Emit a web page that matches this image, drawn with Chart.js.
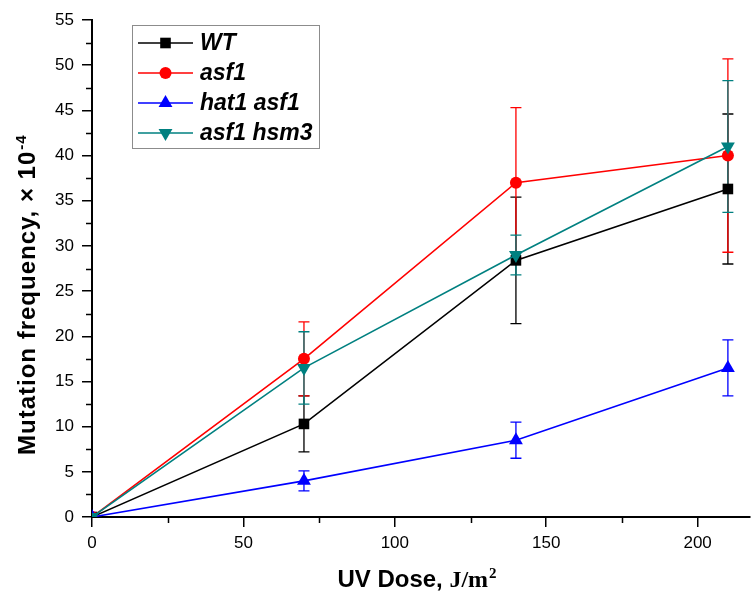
<!DOCTYPE html>
<html>
<head>
<meta charset="utf-8">
<script src="https://cdn.jsdelivr.net/npm/chart.js@4.4.1/dist/chart.umd.min.js"></script>
<style>
  html, body { margin: 0; padding: 0; background: #fff; }
  #wrap { width: 752px; height: 594px; }
</style>
</head>
<body>
<div id="wrap"><canvas id="chart"></canvas></div>
<script>
// UV dose (J/m2) and mutation frequency (x 10^-4) with symmetric errors
const doses = [0, 70, 140, 210]

const wt = [0, 10.3, 28.4, 36.3]
const wtErr = [0, 3.1, 7.0, 8.3]

const asf1 = [0, 17.5, 37.0, 40.0]
const asf1Err = [0, 4.1, 8.3, 10.7]

const hat1Asf1 = [0, 4.0, 8.5, 16.5]
const hat1Asf1Err = [0, 1.1, 2.0, 3.1]

const asf1Hsm3 = [0, 16.5, 29.0, 41.0]
const asf1Hsm3Err = [0, 4.0, 2.2, 7.3]

const xTicks = [0, 50, 100, 150, 200]
const xMinor = [25, 75, 125, 175]
const yTicks = [0, 5, 10, 15, 20, 25, 30, 35, 40, 45, 50, 55]
const yMinor = [2.5, 7.5, 12.5, 17.5, 22.5, 27.5, 32.5, 37.5, 42.5, 47.5, 52.5]

const SANS = '"Liberation Sans", Arial, sans-serif'
const SERIF = '"Liberation Serif", "Times New Roman", serif'

function series(label, values, errors, color, style, radius, rotation, order) {
  return {
    label,
    data: doses.map((d, i) => ({ x: d, y: values[i] })),
    errors,
    borderColor: color,
    backgroundColor: color,
    pointBackgroundColor: color,
    pointBorderColor: color,
    pointBorderWidth: 0,
    pointStyle: style,
    pointRadius: radius,
    pointHoverRadius: radius,
    pointRotation: rotation,
    borderWidth: 1.6,
    tension: 0,
    order,
  }
}

const datasets = [
  series('WT',         wt,       wtErr,       '#000000', 'rect',     7.5, 0,   3),
  series('asf1',       asf1,     asf1Err,     '#ff0000', 'circle',   6,   0,   2),
  series('hat1 asf1',  hat1Asf1, hat1Asf1Err, '#0000ff', 'triangle', 8,   0,   1),
  series('asf1 hsm3',  asf1Hsm3, asf1Hsm3Err, '#008080', 'triangle', 8,   180, 0),
]

// vertical error bars with caps, drawn under the markers
const errorBars = {
  id: 'errorBars',
  beforeDatasetsDraw(chart) {
    const { ctx, scales: { x, y } } = chart
    ctx.save()
    ctx.lineWidth = 1.3
    chart.data.datasets.forEach(ds => {
      ctx.strokeStyle = ds.borderColor
      ds.data.forEach((p, i) => {
        const e = ds.errors[i]
        if (!e) return
        const px = x.getPixelForValue(p.x)
        const top = y.getPixelForValue(p.y + e)
        const bot = y.getPixelForValue(p.y - e)
        ctx.beginPath()
        ctx.moveTo(px, top); ctx.lineTo(px, bot)
        ctx.moveTo(px - 5.5, top); ctx.lineTo(px + 5.5, top)
        ctx.moveTo(px - 5.5, bot); ctx.lineTo(px + 5.5, bot)
        ctx.stroke()
      })
    })
    ctx.restore()
  },
}

// short outward minor ticks between the labelled ones
const minorTicks = {
  id: 'minorTicks',
  afterDraw(chart) {
    const { ctx, chartArea, scales: { x, y } } = chart
    ctx.save()
    ctx.strokeStyle = '#000'
    ctx.lineWidth = 1.5
    ctx.beginPath()
    xMinor.forEach(v => {
      const px = Math.round(x.getPixelForValue(v)) + 0.5
      ctx.moveTo(px, chartArea.bottom); ctx.lineTo(px, chartArea.bottom + 6)
    })
    yMinor.forEach(v => {
      const py = Math.round(y.getPixelForValue(v)) + 0.5
      ctx.moveTo(chartArea.left, py); ctx.lineTo(chartArea.left - 6, py)
    })
    ctx.stroke()
    ctx.restore()
  },
}

// axis titles with a serif unit and raised exponents
const axisTitles = {
  id: 'axisTitles',
  afterDraw(chart) {
    const { ctx } = chart
    ctx.save()
    ctx.fillStyle = '#000'
    ctx.textBaseline = 'alphabetic'
    ctx.textAlign = 'left'

    // x title: UV Dose, J/m2
    const partA = 'UV Dose, '
    const partB = 'J/m'
    const partC = '2'
    ctx.font = 'bold 24px ' + SANS
    const wA = ctx.measureText(partA).width
    ctx.font = 'bold 24px ' + SERIF
    const wB = ctx.measureText(partB).width
    ctx.font = 'bold 15px ' + SERIF
    const wC = ctx.measureText(partC).width
    let x0 = 416.5 - (wA + wB + wC) / 2
    const base = 587
    ctx.font = 'bold 24px ' + SANS
    ctx.fillText(partA, x0, base)
    ctx.font = 'bold 24px ' + SERIF
    ctx.fillText(partB, x0 + wA, base)
    ctx.font = 'bold 15px ' + SERIF
    ctx.fillText(partC, x0 + wA + wB + 1, base - 9)

    // y title: Mutation frequency, x 10^-4
    ctx.translate(35, 455)
    ctx.rotate(-Math.PI / 2)
    ctx.letterSpacing = '1px'
    ctx.font = 'bold 24px ' + SANS
    const main = 'Mutation frequency, \u00d7 10'
    ctx.fillText(main, 0, 0)
    const wm = ctx.measureText(main).width
    ctx.font = 'bold 15px ' + SANS
    ctx.fillText('-4', wm + 1, -9)
    ctx.restore()
  },
}

// boxed legend with a line through each marker
const boxLegend = {
  id: 'boxLegend',
  afterDraw(chart) {
    const { ctx } = chart
    ctx.save()
    ctx.strokeStyle = '#8c8c8c'
    ctx.lineWidth = 1
    ctx.strokeRect(132.5, 25.5, 187, 123)
    chart.data.datasets.forEach((ds, i) => {
      const yy = 43 + i * 30
      ctx.strokeStyle = ds.borderColor
      ctx.lineWidth = 1.6
      ctx.beginPath()
      ctx.moveTo(138, yy); ctx.lineTo(193, yy)
      ctx.stroke()
      ctx.fillStyle = ds.borderColor
      Chart.helpers.drawPoint(ctx, {
        pointStyle: ds.pointStyle,
        rotation: ds.pointRotation,
        radius: ds.pointRadius,
        borderWidth: 0,
      }, 165.5, yy)
      ctx.fillStyle = '#000'
      ctx.font = 'italic bold 23px ' + SANS
      ctx.textBaseline = 'middle'
      ctx.fillText(ds.label, 200, yy + 1)
    })
    ctx.restore()
  },
}

new Chart(document.getElementById('chart'), {
  type: 'line',
  data: { datasets },
  plugins: [errorBars, minorTicks, axisTitles, boxLegend],
  options: {
    responsive: true,
    maintainAspectRatio: false,
    animation: false,
    layout: { autoPadding: false, padding: { top: 20, right: 2, left: 0, bottom: 0 } },
    plugins: {
      legend: { display: false },
      tooltip: { enabled: false },
    },
    scales: {
      x: {
        type: 'linear',
        min: 0,
        max: 217.3,
        afterBuildTicks: s => { s.ticks = xTicks.map(v => ({ value: v })) },
        afterFit: s => { s.height = 77 },
        border: { color: '#000', width: 2 },
        grid: { drawOnChartArea: false, tickLength: 10, color: '#000', lineWidth: 1.5 },
        ticks: { color: '#000', padding: 6, maxRotation: 0, font: { family: SANS, size: 17 } },
      },
      y: {
        min: 0,
        max: 55,
        afterBuildTicks: s => { s.ticks = yTicks.map(v => ({ value: v })) },
        afterFit: s => { s.width = 92 },
        border: { color: '#000', width: 2 },
        grid: { drawOnChartArea: false, tickLength: 10, color: '#000', lineWidth: 1.5 },
        ticks: { color: '#000', padding: 8, font: { family: SANS, size: 17 } },
      },
    },
  },
})
</script>
</body>
</html>
